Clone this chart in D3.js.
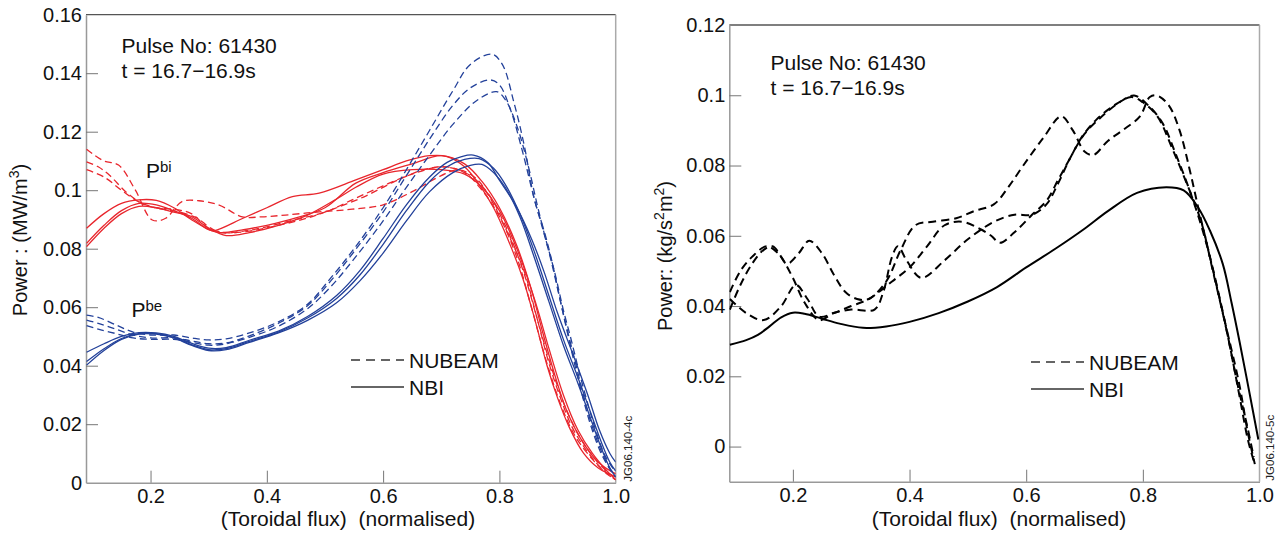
<!DOCTYPE html>
<html>
<head>
<meta charset="utf-8">
<script src="https://cdn.jsdelivr.net/npm/d3@7"></script>
<style>
  body { margin: 0; background: #fff; }
  svg { font-family: "Liberation Sans", Arial, Helvetica, sans-serif; }
  .tick text { font-size: 20px; fill: #111; }
</style>
</head>
<body>
<svg id="chart" width="1285" height="538"></svg>
<script>
// ---- tick labels ----
const xTicks = [0.2, 0.4, 0.6, 0.8, 1.0];
const xTickLabels = ["0.2", "0.4", "0.6", "0.8", "1.0"];
const yTicksLeft = [0, 0.02, 0.04, 0.06, 0.08, 0.1, 0.12, 0.14, 0.16];
const yTickLabelsLeft = ["0", "0.02", "0.04", "0.06", "0.08", "0.1", "0.12", "0.14", "0.16"];
const yTicksRight = [0, 0.02, 0.04, 0.06, 0.08, 0.1, 0.12];
const yTickLabelsRight = ["0", "0.02", "0.04", "0.06", "0.08", "0.1", "0.12"];

// ---- left panel: P_bi (red) ----
const pbiNubeam1 = [[0.09,0.114],[0.1,0.1125],[0.12,0.110],[0.145,0.1086],[0.174,0.100],[0.203,0.0898],[0.226,0.0904],[0.254,0.0961],[0.283,0.0964],[0.318,0.0949],[0.358,0.0909],[0.392,0.0909],[0.432,0.0915],[0.49,0.0926],[0.547,0.0935],[0.60,0.095],[0.65,0.0995],[0.70,0.105],[0.73,0.107],[0.76,0.104],[0.785,0.097],[0.815,0.085],[0.843,0.072],[0.865,0.056],[0.885,0.041],[0.905,0.029],[0.925,0.019],[0.95,0.011],[0.975,0.005],[1.0,0.001]];
const pbiNubeam2 = [[0.09,0.1097],[0.11,0.108],[0.13,0.105],[0.16,0.099],[0.19,0.095],[0.22,0.0935],[0.25,0.0925],[0.28,0.0905],[0.30,0.0875],[0.32,0.0855],[0.36,0.086],[0.40,0.0875],[0.45,0.090],[0.50,0.0925],[0.55,0.097],[0.60,0.1015],[0.65,0.1055],[0.70,0.108],[0.74,0.106],[0.77,0.100],[0.80,0.091],[0.83,0.077],[0.855,0.060],[0.88,0.042],[0.905,0.027],[0.93,0.016],[0.96,0.008],[0.985,0.003],[1.0,0.001]];
const pbiNubeam3 = [[0.09,0.107],[0.12,0.1045],[0.15,0.100],[0.18,0.096],[0.21,0.094],[0.24,0.0935],[0.27,0.092],[0.30,0.087],[0.33,0.0855],[0.37,0.086],[0.42,0.088],[0.47,0.0905],[0.52,0.094],[0.57,0.098],[0.62,0.103],[0.67,0.107],[0.71,0.108],[0.75,0.105],[0.78,0.099],[0.81,0.088],[0.84,0.073],[0.865,0.056],[0.89,0.039],[0.915,0.025],[0.94,0.015],[0.965,0.008],[0.99,0.003],[1.0,0.002]];
const pbiNbi1 = [[0.09,0.087],[0.12,0.092],[0.15,0.0955],[0.18,0.0967],[0.21,0.0965],[0.24,0.094],[0.27,0.090],[0.30,0.0866],[0.31,0.0862],[0.36,0.0905],[0.40,0.094],[0.444,0.0978],[0.49,0.099],[0.553,0.1035],[0.60,0.107],[0.64,0.110],[0.68,0.1118],[0.71,0.1115],[0.74,0.108],[0.765,0.102],[0.79,0.094],[0.815,0.083],[0.84,0.070],[0.862,0.055],[0.882,0.040],[0.90,0.029],[0.92,0.019],[0.945,0.010],[0.97,0.005],[1.0,0.002]];
const pbiNbi2 = [[0.09,0.0818],[0.12,0.088],[0.15,0.093],[0.18,0.0955],[0.21,0.095],[0.24,0.093],[0.27,0.0905],[0.30,0.0865],[0.32,0.0855],[0.36,0.0865],[0.40,0.088],[0.45,0.0905],[0.50,0.094],[0.553,0.1024],[0.60,0.106],[0.65,0.109],[0.70,0.1118],[0.74,0.109],[0.77,0.103],[0.80,0.094],[0.83,0.081],[0.855,0.066],[0.875,0.051],[0.895,0.037],[0.915,0.025],[0.94,0.015],[0.97,0.007],[1.0,0.003]];
const pbiNbi3 = [[0.09,0.0807],[0.12,0.087],[0.15,0.092],[0.18,0.0945],[0.21,0.094],[0.24,0.0925],[0.27,0.091],[0.30,0.087],[0.33,0.0845],[0.37,0.0855],[0.42,0.088],[0.47,0.0915],[0.52,0.097],[0.553,0.101],[0.60,0.1055],[0.65,0.107],[0.70,0.107],[0.74,0.1055],[0.77,0.101],[0.80,0.093],[0.83,0.080],[0.86,0.063],[0.885,0.046],[0.91,0.030],[0.935,0.018],[0.96,0.010],[0.985,0.004],[1.0,0.001]];

// ---- left panel: P_be (blue) ----
const pbeNubeam1 = [[0.09,0.0573],[0.11,0.0565],[0.14,0.0540],[0.17,0.0515],[0.20,0.0505],[0.24,0.0505],[0.27,0.0495],[0.30,0.0488],[0.33,0.0492],[0.37,0.0512],[0.42,0.0550],[0.47,0.0610],[0.51,0.0700],[0.55,0.0800],[0.60,0.0940],[0.64,0.1070],[0.68,0.1205],[0.72,0.1340],[0.75,0.1430],[0.787,0.1465],[0.805,0.143],[0.825,0.130],[0.843,0.115],[0.86,0.097],[0.877,0.086],[0.89,0.076],[0.905,0.062],[0.915,0.053],[0.93,0.040],[0.945,0.028],[0.958,0.019],[0.975,0.010],[0.992,0.004],[1.0,0.002]];
const pbeNubeam2 = [[0.09,0.0556],[0.11,0.0545],[0.14,0.0525],[0.17,0.0505],[0.20,0.0495],[0.24,0.0495],[0.27,0.0485],[0.30,0.0475],[0.33,0.0478],[0.37,0.0502],[0.42,0.0545],[0.47,0.0605],[0.51,0.0690],[0.55,0.0790],[0.60,0.0925],[0.64,0.1050],[0.68,0.1175],[0.72,0.1290],[0.75,0.1350],[0.784,0.1377],[0.80,0.1360],[0.82,0.127],[0.84,0.113],[0.86,0.097],[0.877,0.085],[0.89,0.075],[0.905,0.062],[0.917,0.052],[0.932,0.040],[0.947,0.028],[0.96,0.019],[0.977,0.010],[0.993,0.004],[1.0,0.003]];
const pbeNubeam3 = [[0.09,0.0537],[0.11,0.0525],[0.14,0.0510],[0.17,0.0495],[0.20,0.0490],[0.24,0.0490],[0.27,0.0480],[0.30,0.0470],[0.33,0.0475],[0.37,0.0497],[0.42,0.0535],[0.47,0.0595],[0.51,0.0670],[0.55,0.0765],[0.60,0.0895],[0.64,0.1010],[0.68,0.1120],[0.72,0.1225],[0.76,0.1305],[0.795,0.1337],[0.81,0.1310],[0.83,0.122],[0.85,0.108],[0.865,0.095],[0.88,0.083],[0.895,0.072],[0.91,0.059],[0.922,0.050],[0.937,0.038],[0.952,0.027],[0.964,0.019],[0.98,0.010],[0.995,0.005],[1.0,0.004]];
const pbeNbi1 = [[0.09,0.0446],[0.12,0.0475],[0.15,0.0500],[0.18,0.0513],[0.21,0.0512],[0.24,0.0500],[0.27,0.0477],[0.30,0.0460],[0.33,0.0462],[0.37,0.0487],[0.42,0.0518],[0.47,0.0568],[0.52,0.0640],[0.56,0.0725],[0.60,0.0835],[0.64,0.0950],[0.68,0.1045],[0.71,0.1095],[0.735,0.1115],[0.755,0.1120],[0.78,0.1095],[0.80,0.1034],[0.829,0.0944],[0.856,0.083],[0.877,0.072],[0.90,0.058],[0.93,0.042],[0.952,0.030],[0.972,0.018],[0.99,0.010],[1.0,0.007]];
const pbeNbi2 = [[0.09,0.0414],[0.12,0.0458],[0.15,0.0493],[0.18,0.0510],[0.21,0.0510],[0.24,0.0497],[0.27,0.0472],[0.30,0.0455],[0.33,0.0458],[0.37,0.0483],[0.42,0.0515],[0.47,0.0563],[0.52,0.0630],[0.56,0.0710],[0.60,0.0815],[0.64,0.0930],[0.68,0.1030],[0.71,0.1080],[0.74,0.1105],[0.765,0.1108],[0.79,0.1075],[0.81,0.102],[0.835,0.092],[0.86,0.079],[0.885,0.064],[0.91,0.049],[0.935,0.036],[0.955,0.025],[0.975,0.014],[0.99,0.007],[1.0,0.004]];
const pbeNbi3 = [[0.09,0.0402],[0.12,0.0452],[0.15,0.0490],[0.18,0.0508],[0.21,0.0508],[0.24,0.0495],[0.27,0.0470],[0.30,0.0452],[0.33,0.0455],[0.37,0.0480],[0.42,0.0512],[0.47,0.0555],[0.52,0.0615],[0.56,0.0690],[0.60,0.0785],[0.64,0.0895],[0.68,0.0995],[0.72,0.1060],[0.75,0.1085],[0.77,0.1088],[0.79,0.1060],[0.81,0.101],[0.835,0.091],[0.86,0.077],[0.885,0.062],[0.91,0.047],[0.935,0.034],[0.955,0.023],[0.975,0.012],[0.99,0.005],[1.0,0.002]];

// ---- right panel (black) ----
const torqueNubeam1 = [[0.092,0.039],[0.11,0.046],[0.13,0.052],[0.15,0.056],[0.165,0.057],[0.18,0.054],[0.20,0.048],[0.22,0.041],[0.245,0.036],[0.27,0.038],[0.30,0.039],[0.34,0.039],[0.355,0.044],[0.37,0.054],[0.38,0.057],[0.395,0.053],[0.42,0.048],[0.46,0.053],[0.50,0.059],[0.545,0.064],[0.58,0.066],[0.61,0.066],[0.635,0.069],[0.655,0.075],[0.675,0.082],[0.70,0.089],[0.73,0.094],[0.76,0.098],[0.785,0.0999],[0.81,0.097],[0.834,0.092],[0.857,0.083],[0.88,0.073],[0.90,0.063],[0.918,0.052],[0.94,0.036],[0.962,0.018],[0.98,0.005],[0.99,-0.003]];
const torqueNubeam2 = [[0.092,0.042],[0.12,0.038],[0.15,0.036],[0.18,0.040],[0.205,0.046],[0.225,0.042],[0.245,0.037],[0.27,0.038],[0.30,0.040],[0.33,0.042],[0.37,0.047],[0.40,0.051],[0.43,0.057],[0.46,0.063],[0.49,0.064],[0.52,0.062],[0.54,0.060],[0.555,0.058],[0.58,0.061],[0.61,0.066],[0.635,0.070],[0.655,0.076],[0.675,0.082],[0.695,0.088],[0.72,0.093],[0.75,0.097],[0.78,0.0995],[0.80,0.098],[0.825,0.094],[0.85,0.085],[0.875,0.075],[0.90,0.064],[0.92,0.050],[0.945,0.032],[0.965,0.015],[0.98,0.002],[0.99,-0.004]];
const torqueNubeam3 = [[0.092,0.044],[0.11,0.050],[0.13,0.054],[0.155,0.057],[0.175,0.055],[0.19,0.052],[0.21,0.055],[0.228,0.0586],[0.25,0.055],[0.27,0.049],[0.29,0.044],[0.31,0.042],[0.33,0.042],[0.36,0.047],[0.385,0.056],[0.41,0.063],[0.44,0.064],[0.48,0.065],[0.51,0.067],[0.545,0.069],[0.57,0.074],[0.595,0.080],[0.63,0.088],[0.66,0.094],[0.68,0.090],[0.70,0.084],[0.715,0.083],[0.74,0.087],[0.765,0.090],[0.795,0.094],[0.812,0.0995],[0.825,0.0999],[0.845,0.097],[0.863,0.090],[0.88,0.079],[0.895,0.068],[0.915,0.054],[0.94,0.036],[0.965,0.018],[0.98,0.004],[0.992,-0.005]];
const torqueNbi = [[0.092,0.029],[0.12,0.0303],[0.14,0.0318],[0.16,0.0342],[0.18,0.0368],[0.20,0.0381],[0.22,0.0378],[0.25,0.0364],[0.28,0.035],[0.32,0.0338],[0.36,0.0342],[0.40,0.0355],[0.45,0.038],[0.50,0.0413],[0.55,0.0454],[0.60,0.051],[0.65,0.0563],[0.70,0.062],[0.74,0.067],[0.79,0.0722],[0.84,0.0738],[0.87,0.0729],[0.895,0.068],[0.915,0.0615],[0.937,0.052],[0.952,0.041],[0.966,0.0297],[0.982,0.016],[0.998,0.002]];

const RED = "#e8262d", BLUE = "#23419a", BLACK = "#000";

const svg = d3.select("#chart");

function drawPanel(cfg) {
    let x = d3.scaleLinear().domain(cfg.xDomain).range([cfg.left, cfg.right]);
    let y = d3.scaleLinear().domain(cfg.yDomain).range([cfg.bottom, cfg.top]);
    let g = svg.append("g");

    let clipId = "clip" + cfg.id;
    g.append("clipPath").attr("id", clipId)
        .append("rect")
        .attr("x", cfg.left).attr("y", cfg.top - 2)
        .attr("width", cfg.right - cfg.left).attr("height", cfg.bottom - cfg.top + 2);

    // frame
    g.append("line").attr("x1", cfg.left).attr("x2", cfg.right).attr("y1", cfg.top).attr("y2", cfg.top)
        .attr("stroke", "#555").attr("stroke-width", 1.3);
    g.append("line").attr("x1", cfg.right).attr("x2", cfg.right).attr("y1", cfg.top).attr("y2", cfg.bottom)
        .attr("stroke", "#aaa").attr("stroke-width", 1.5);

    // axes, ticks point inwards
    let yAxis = d3.axisLeft(y).tickValues(cfg.yTicks)
        .tickFormat((d, i) => cfg.yTickLabels[i])
        .tickSizeInner(-12).tickSizeOuter(0).tickPadding(4);
    let yg = g.append("g").attr("transform", "translate(" + cfg.left + ",0)").call(yAxis);

    let xAxis = d3.axisBottom(x).tickValues(xTicks)
        .tickFormat((d, i) => xTickLabels[i])
        .tickSizeInner(-12).tickSizeOuter(0).tickPadding(6);
    let xg = g.append("g").attr("transform", "translate(0," + cfg.bottom + ")").call(xAxis);

    [yg, xg].forEach(a => {
        a.select(".domain").attr("stroke", "#999").attr("stroke-width", 1.5);
        a.selectAll(".tick line").attr("stroke", "#777").attr("stroke-width", 1);
        a.selectAll(".tick text").style("font-size", "20px").attr("fill", "#111");
    });
    // no tick marks in the corners
    xg.selectAll(".tick line").filter(d => d === 1.0).remove();
    yg.selectAll(".tick line").filter(d => d === cfg.yDomain[1]).remove();
    if (cfg.yDomain[0] === 0) yg.selectAll(".tick line").filter(d => d === 0).remove();

    // curves
    let line = d3.line()
        .x(d => x(d[0]))
        .y(d => y(d[1]))
        .curve(d3.curveCatmullRom.alpha(0.5));

    let lg = g.append("g").attr("clip-path", "url(#" + clipId + ")");
    cfg.series.forEach(s => {
        lg.append("path")
            .attr("d", line(s.data))
            .attr("fill", "none")
            .attr("stroke", s.color)
            .attr("stroke-width", s.width)
            .attr("stroke-dasharray", s.dashed ? cfg.dash : null);
    });

    // annotation
    let t = g.append("text").attr("x", cfg.noteX).attr("y", cfg.noteY)
        .style("font-size", "21px").attr("fill", "#111");
    t.append("tspan").attr("x", cfg.noteX).text("Pulse No: 61430");
    t.append("tspan").attr("x", cfg.noteX).attr("dy", 25).text("t = 16.7\u221216.9s");

    // legend
    let lgd = g.append("g");
    lgd.append("line").attr("x1", cfg.legX).attr("x2", cfg.legX + 53)
        .attr("y1", cfg.legY).attr("y2", cfg.legY)
        .attr("stroke", "#333").attr("stroke-width", 1.5).attr("stroke-dasharray", "9,6");
    lgd.append("line").attr("x1", cfg.legX).attr("x2", cfg.legX + 53)
        .attr("y1", cfg.legY + 27).attr("y2", cfg.legY + 27)
        .attr("stroke", "#333").attr("stroke-width", 1.5);
    lgd.append("text").attr("x", cfg.legX + 58).attr("y", cfg.legY + 7.5)
        .style("font-size", "21px").attr("fill", "#111").text("NUBEAM");
    lgd.append("text").attr("x", cfg.legX + 58).attr("y", cfg.legY + 34.5)
        .style("font-size", "21px").attr("fill", "#111").text("NBI");

    // x title
    g.append("text")
        .attr("x", cfg.xTitleX).attr("y", 526)
        .attr("text-anchor", "middle")
        .style("font-size", "21px").attr("fill", "#111")
        .attr("xml:space", "preserve")
        .text("(Toroidal flux)  (normalised)");

    // y title
    let yt = g.append("text")
        .attr("transform", "translate(" + cfg.yTitleX + "," + cfg.yTitleY + ") rotate(-90)")
        .attr("text-anchor", "middle")
        .style("font-size", "20px").attr("fill", "#111");
    cfg.yTitle.forEach(p => {
        let ts = yt.append("tspan").text(p.t);
        if (p.sup) ts.attr("dy", -8).style("font-size", "14px");
        if (p.down) ts.attr("dy", 8);
    });

    // figure code
    g.append("text")
        .attr("transform", "translate(" + cfg.codeX + "," + (cfg.bottom - 1) + ") rotate(-90)")
        .style("font-size", "11.5px").attr("fill", "#222")
        .text(cfg.code);

    return {x: x, y: y, g: g};
}

let leftP = drawPanel({
    id: "L",
    left: 86, right: 615.7, top: 14.7, bottom: 482.7,
    xDomain: [0.089, 1.0], yDomain: [0, 0.16],
    yTicks: yTicksLeft, yTickLabels: yTickLabelsLeft,
    dash: "7,4",
    series: [
        {data: pbiNubeam1, color: RED, width: 1.3, dashed: true},
        {data: pbiNubeam2, color: RED, width: 1.3, dashed: true},
        {data: pbiNubeam3, color: RED, width: 1.3, dashed: true},
        {data: pbiNbi1, color: RED, width: 1.3, dashed: false},
        {data: pbiNbi2, color: RED, width: 1.3, dashed: false},
        {data: pbiNbi3, color: RED, width: 1.3, dashed: false},
        {data: pbeNubeam1, color: BLUE, width: 1.3, dashed: true},
        {data: pbeNubeam2, color: BLUE, width: 1.3, dashed: true},
        {data: pbeNubeam3, color: BLUE, width: 1.3, dashed: true},
        {data: pbeNbi1, color: BLUE, width: 1.3, dashed: false},
        {data: pbeNbi2, color: BLUE, width: 1.3, dashed: false},
        {data: pbeNbi3, color: BLUE, width: 1.3, dashed: false}
    ],
    noteX: 121.5, noteY: 52.5,
    legX: 351, legY: 360,
    xTitleX: 348,
    yTitleX: 27, yTitleY: 240,
    yTitle: [{t: "Power : (MW/m"}, {t: "3", sup: true}, {t: ")", down: true}],
    codeX: 632, code: "JG06.140-4c"
});

// P_bi / P_be labels
[["P", "bi", 146, 178.3], ["P", "be", 131.5, 316.7]].forEach(l => {
    let t = leftP.g.append("text").attr("x", l[2]).attr("y", l[3])
        .style("font-size", "21px").attr("fill", "#111");
    t.append("tspan").text(l[0]);
    t.append("tspan").attr("dy", -6).style("font-size", "15px").text(l[1]);
});

drawPanel({
    id: "R",
    left: 729.3, right: 1259.5, top: 25, bottom: 481.7,
    xDomain: [0.091, 1.0], yDomain: [-0.01, 0.12],
    yTicks: yTicksRight, yTickLabels: yTickLabelsRight,
    dash: "8,5",
    series: [
        {data: torqueNubeam1, color: BLACK, width: 2, dashed: true},
        {data: torqueNubeam2, color: BLACK, width: 2, dashed: true},
        {data: torqueNubeam3, color: BLACK, width: 2, dashed: true},
        {data: torqueNbi, color: BLACK, width: 2, dashed: false}
    ],
    noteX: 770.5, noteY: 70,
    legX: 1031, legY: 362,
    xTitleX: 999,
    yTitleX: 672, yTitleY: 256,
    yTitle: [{t: "Power: (kg/s"}, {t: "2", sup: true}, {t: "m", down: true}, {t: "2", sup: true}, {t: ")", down: true}],
    codeX: 1274, code: "JG06.140-5c"
});
</script>
</body>
</html>
